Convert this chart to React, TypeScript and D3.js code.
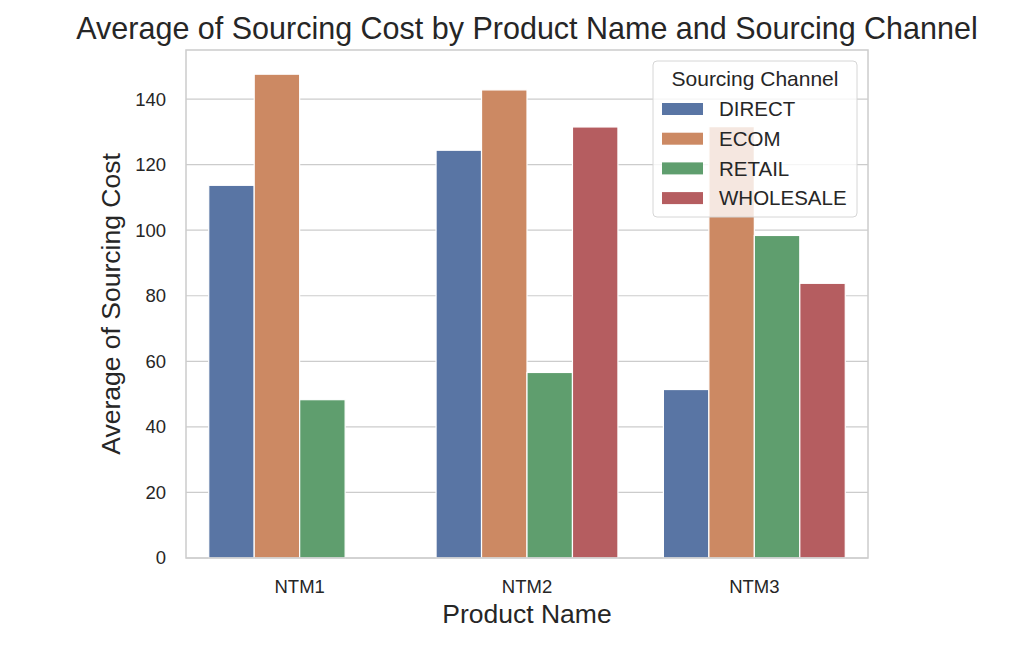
import React, { useEffect, useRef } from "react";
import * as d3 from "d3";

const products = ["NTM1", "NTM2", "NTM3"];
const channels = ["DIRECT", "ECOM", "RETAIL", "WHOLESALE"];
const channelColors = ["#5975a4", "#cc8963", "#5f9e6e", "#b55d60"];
// average sourcing cost per product, one array per channel (null = no data)
const directValues = [113.7, 124.4, 51.4];
const ecomValues = [147.6, 142.8, 131.6];
const retailValues = [48.3, 56.6, 98.4];
const wholesaleValues: (number | null)[] = [null, 131.5, 83.8];
const yTicks = [0, 20, 40, 60, 80, 100, 120, 140];

const seriesValues = [directValues, ecomValues, retailValues, wholesaleValues];

export default function App() {
  const svgRef = useRef<SVGSVGElement>(null);

  useEffect(() => {
    const width = 1027;
    const height = 647;
    const marginLeft = 186;
    const marginRight = 159;
    const marginTop = 50;
    const marginBottom = 89;
    const font = "'Liberation Sans', Arial, sans-serif";
    const textColor = "#262626";
    const gridColor = "#cccccc";

    const svg = d3.select(svgRef.current);
    svg.selectAll("*").remove();
    svg
      .attr("width", width)
      .attr("height", height)
      .style("position", "absolute")
      .style("left", "0px")
      .style("top", "0px")
      .style("background", "#ffffff");

    const x = d3
      .scaleBand()
      .domain(products)
      .range([marginLeft, width - marginRight])
      .paddingInner(0)
      .paddingOuter(0);

    const x1 = d3
      .scaleBand()
      .domain(channels)
      .range([x.bandwidth() * 0.1, x.bandwidth() * 0.9]);

    const maxVal = d3.max(seriesValues.flat().filter((v) => v != null) as number[]) as number;
    const y = d3
      .scaleLinear()
      .domain([0, maxVal * 1.05])
      .range([height - marginBottom, marginTop]);

    // grid
    svg
      .append("g")
      .selectAll("line")
      .data(yTicks)
      .join("line")
      .attr("x1", marginLeft)
      .attr("x2", width - marginRight)
      .attr("y1", (d) => y(d))
      .attr("y2", (d) => y(d))
      .attr("stroke", gridColor)
      .attr("stroke-width", 1.2);

    // bars
    const data = products.flatMap((p, i) =>
      channels.map((c, j) => ({ product: p, channel: c, idx: j, value: seriesValues[j][i] }))
    );
    svg
      .append("g")
      .selectAll("rect")
      .data(data.filter((d) => d.value != null))
      .join("rect")
      .attr("x", (d) => (x(d.product) as number) + (x1(d.channel) as number))
      .attr("width", x1.bandwidth())
      .attr("y", (d) => y(d.value as number))
      .attr("height", (d) => y(0) - y(d.value as number))
      .attr("fill", (d) => channelColors[d.idx])
      .attr("stroke", "#ffffff")
      .attr("stroke-width", 1.2);

    // spines
    svg
      .append("rect")
      .attr("x", marginLeft)
      .attr("y", marginTop)
      .attr("width", width - marginLeft - marginRight)
      .attr("height", height - marginTop - marginBottom)
      .attr("fill", "none")
      .attr("stroke", gridColor)
      .attr("stroke-width", 1.5);

    // y tick labels
    svg
      .append("g")
      .selectAll("text")
      .data(yTicks)
      .join("text")
      .attr("x", marginLeft - 20)
      .attr("y", (d) => y(d))
      .attr("dy", "0.35em")
      .attr("text-anchor", "end")
      .attr("font-family", font)
      .attr("font-size", 18.5)
      .attr("fill", textColor)
      .text((d) => d);

    // x tick labels
    svg
      .append("g")
      .selectAll("text")
      .data(products)
      .join("text")
      .attr("x", (d) => (x(d) as number) + x.bandwidth() / 2)
      .attr("y", 593)
      .attr("text-anchor", "middle")
      .attr("font-family", font)
      .attr("font-size", 18.5)
      .attr("fill", textColor)
      .text((d) => d);

    // axis labels
    svg
      .append("text")
      .attr("x", marginLeft + (width - marginLeft - marginRight) / 2)
      .attr("y", 623)
      .attr("text-anchor", "middle")
      .attr("font-family", font)
      .attr("font-size", 26.5)
      .attr("fill", textColor)
      .text("Product Name");

    svg
      .append("text")
      .attr("transform", `translate(120,${marginTop + (height - marginTop - marginBottom) / 2}) rotate(-90)`)
      .attr("text-anchor", "middle")
      .attr("font-family", font)
      .attr("font-size", 26.5)
      .attr("fill", textColor)
      .text("Average of Sourcing Cost");

    // title
    svg
      .append("text")
      .attr("x", marginLeft + (width - marginLeft - marginRight) / 2)
      .attr("y", 39)
      .attr("text-anchor", "middle")
      .attr("font-family", font)
      .attr("font-size", 30.5)
      .attr("fill", textColor)
      .text("Average of Sourcing Cost by Product Name and Sourcing Channel");

    // legend
    const legend = svg.append("g").attr("transform", "translate(653,61)");
    legend
      .append("rect")
      .attr("width", 204)
      .attr("height", 156)
      .attr("rx", 4)
      .attr("fill", "#ffffff")
      .attr("fill-opacity", 0.8)
      .attr("stroke", "#d6d6d6")
      .attr("stroke-width", 1);
    legend
      .append("text")
      .attr("x", 102)
      .attr("y", 25)
      .attr("text-anchor", "middle")
      .attr("font-family", font)
      .attr("font-size", 21)
      .attr("fill", textColor)
      .text("Sourcing Channel");
    const items = legend
      .selectAll("g.item")
      .data(channels)
      .join("g")
      .attr("class", "item")
      .attr("transform", (_, i) => `translate(0,${48 + i * 29.7})`);
    items
      .append("rect")
      .attr("x", 9)
      .attr("y", -6)
      .attr("width", 41)
      .attr("height", 12)
      .attr("fill", (_, i) => channelColors[i]);
    items
      .append("text")
      .attr("x", 66)
      .attr("y", 0)
      .attr("dy", "0.35em")
      .attr("font-family", font)
      .attr("font-size", 20.5)
      .attr("fill", textColor)
      .text((d) => d);
  }, []);

  return <svg ref={svgRef} />;
}
